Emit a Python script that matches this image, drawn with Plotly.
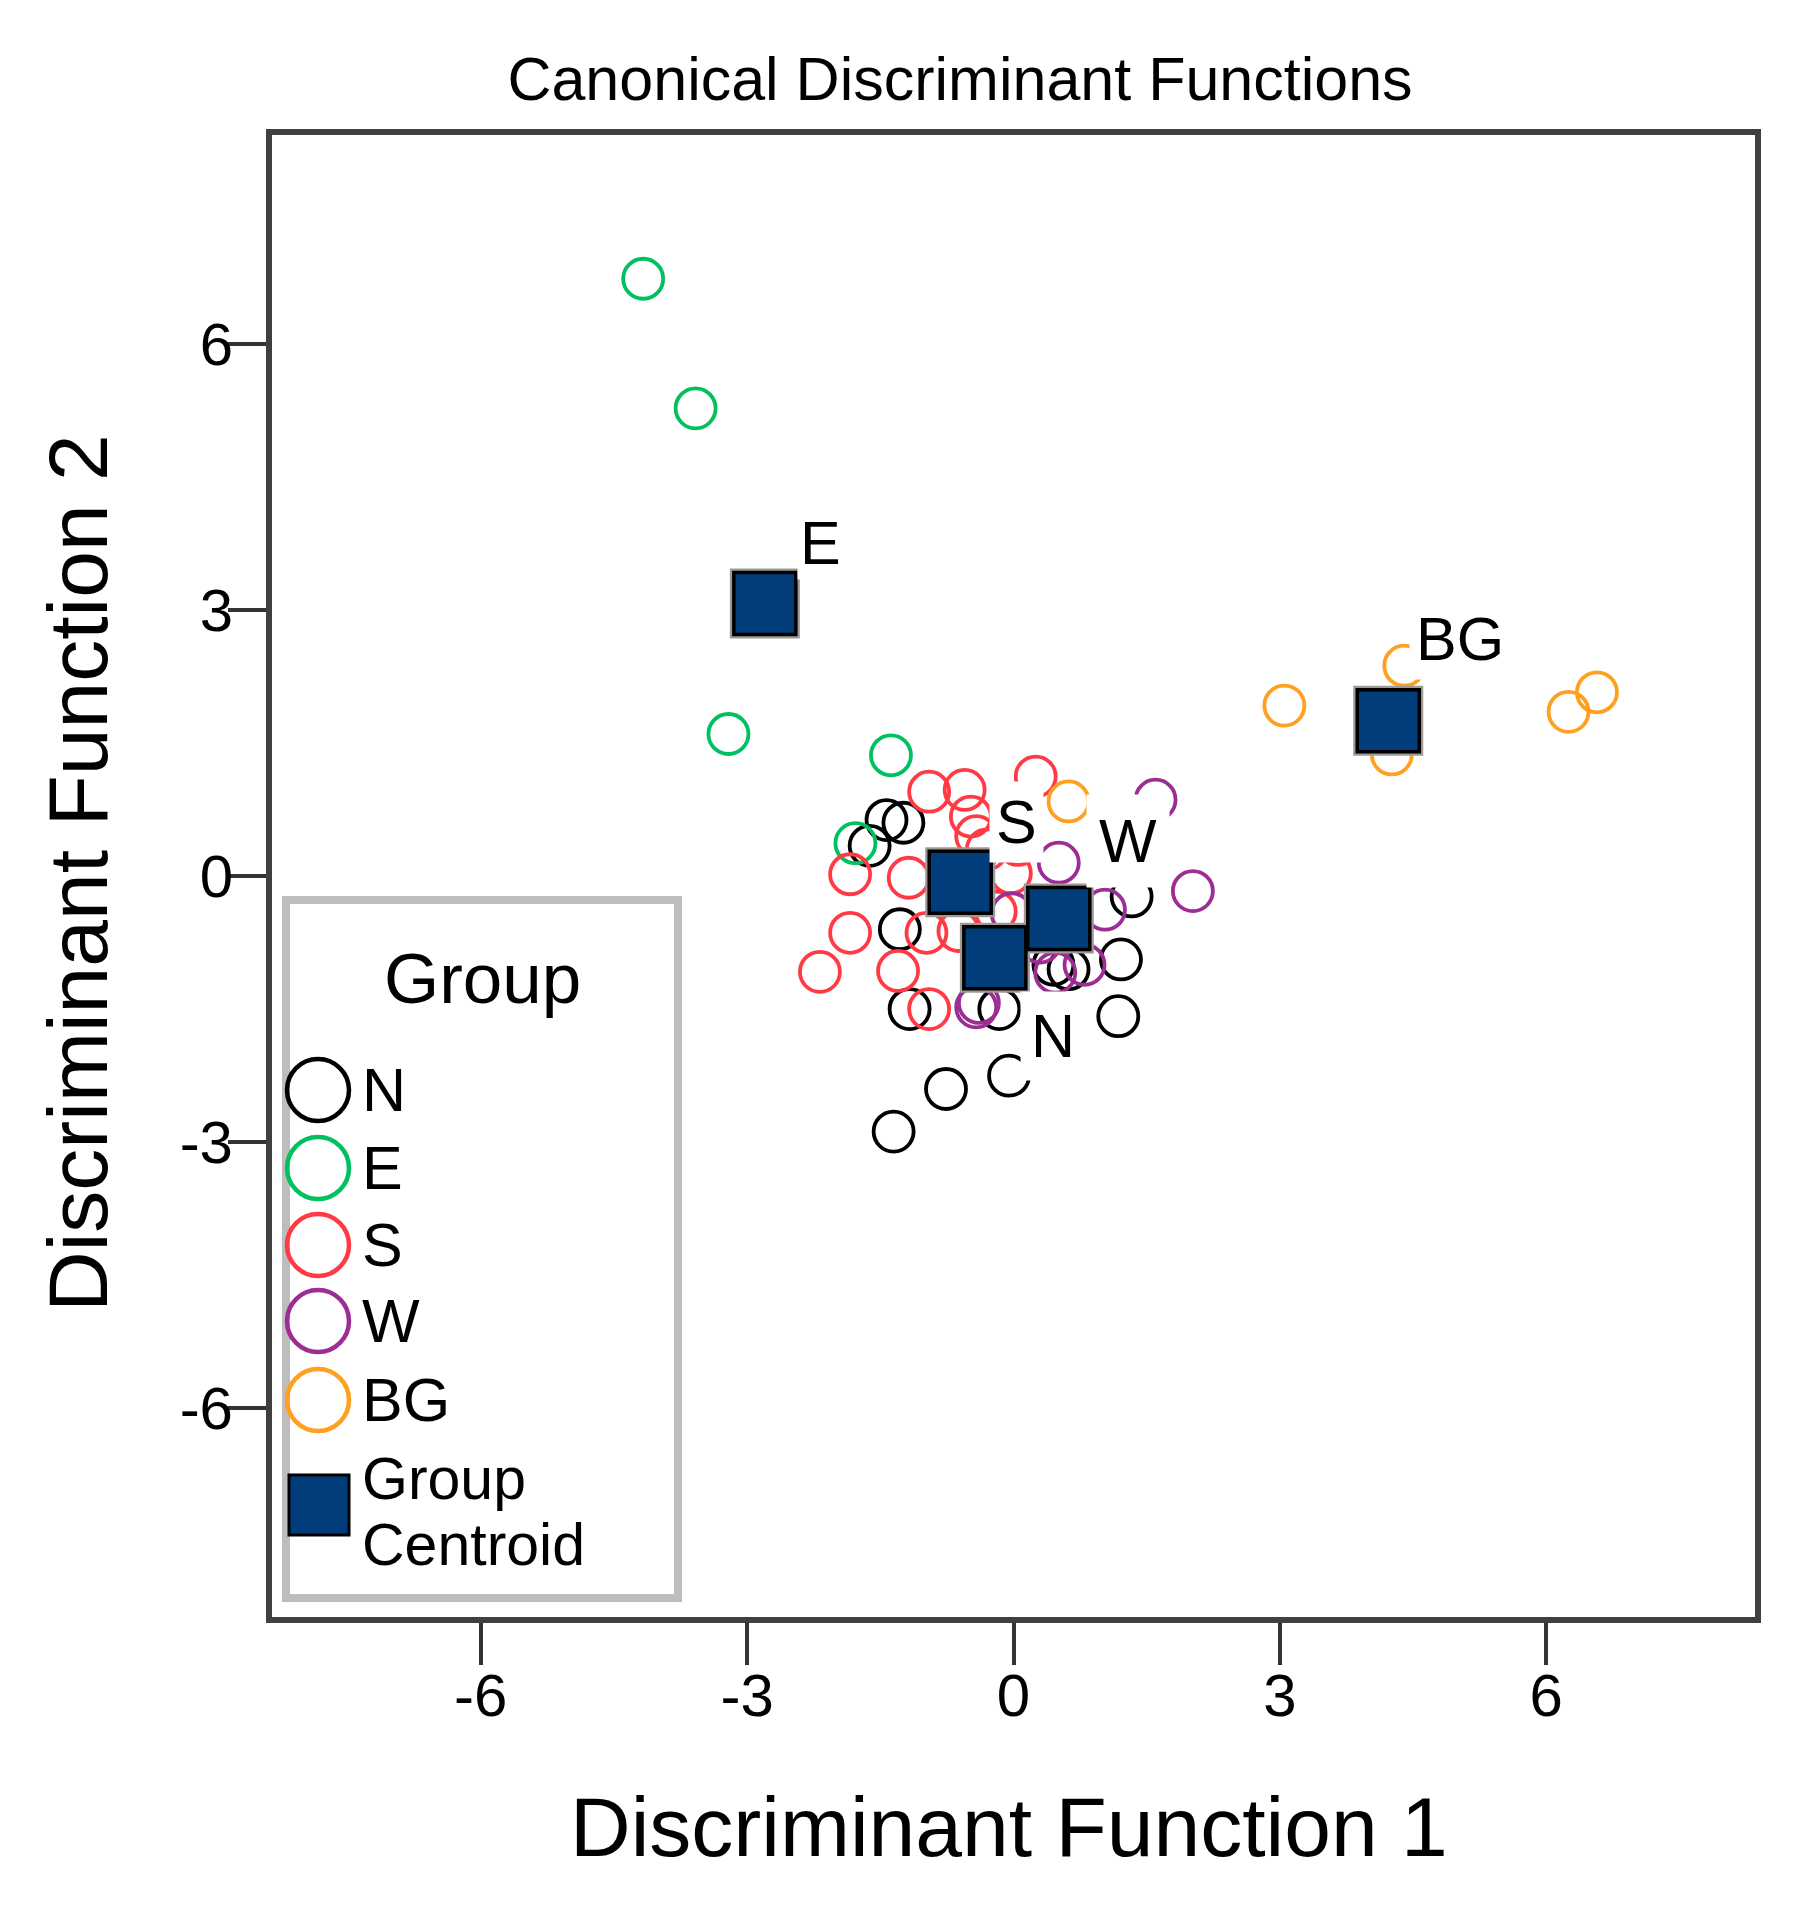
import plotly.graph_objects as go

# group scores on the two discriminant functions
n_x = [-1.43, -1.24, -1.62, -1.28, 1.33, 0.62, 1.21, 1.18, -0.16, -1.17, -0.05, -0.76, -1.35, 0.45]
n_y = [0.63, 0.60, 0.34, -0.60, -0.23, -1.05, -0.94, -1.58, -1.50, -1.50, -2.25, -2.40, -2.88, -1.00]

e_x = [-4.17, -3.58, -3.21, -1.38, -1.78]
e_y = [6.73, 5.27, 1.60, 1.36, 0.37]

s_x = [-0.95, -0.55, -0.48, -0.42, 0.25, -1.84, -1.18, -0.03, -1.84, -2.18, -1.30, -0.95, -0.98, -0.62, -0.30, -0.20, 0.05]
s_y = [0.95, 0.97, 0.67, 0.45, 1.12, 0.02, -0.02, 0.03, -0.64, -1.08, -1.07, -1.50, -0.64, -0.62, 0.30, -0.40, 0.35]

w_x = [1.60, 2.02, 0.51, 1.03, -0.42, -0.02, 0.47, 0.80, 0.30, -0.39]
w_y = [0.86, -0.17, 0.15, -0.38, -1.48, -0.42, -1.09, -1.00, -0.75, -1.43]

bg_x = [3.05, 4.40, 4.26, 6.25, 6.57, 0.62]
bg_y = [1.92, 2.37, 1.37, 1.85, 2.07, 0.84]

centroid_names = ["N", "E", "S", "W", "BG"]
centroid_x = [-0.21, -2.80, -0.60, 0.51, 4.22]
centroid_y = [-0.92, 3.07, -0.07, -0.48, 1.75]

ticks = [-6, -3, 0, 3, 6]

FONT = "Liberation Sans, Arial, sans-serif"
NAVY = "#003d7a"
groups = [
    ("N", n_x, n_y, "#000000"),
    ("E", e_x, e_y, "#00c060"),
    ("S", s_x, s_y, "#ff3a44"),
    ("W", w_x, w_y, "#9c2d93"),
    ("BG", bg_x, bg_y, "#ffa020"),
]

fig = go.Figure()
for name, xs, ys, col in groups:
    fig.add_trace(go.Scatter(
        x=xs, y=ys, mode="markers", name=name,
        marker=dict(symbol="circle-open", size=40, color=col, line=dict(width=3.8, color=col)),
    ))

# centroids: grey halo underneath, then the navy square
fig.add_trace(go.Scatter(
    x=centroid_x, y=centroid_y, mode="markers", hoverinfo="skip",
    marker=dict(symbol="square", size=70, color="#9a9a9a"),
))
fig.add_trace(go.Scatter(
    x=centroid_x, y=centroid_y, mode="markers", name="Group Centroid",
    marker=dict(symbol="square", size=62, color=NAVY, line=dict(width=3.5, color="#000000")),
))

# centroid labels (white box, like SPSS): xshift, yshift, anchor, pad
label_off = {"E": (32, 24, "bottom", 2), "S": (29, 19, "bottom", 6), "W": (27, 31, "bottom", 12),
             "BG": (21, 41, "bottom", 6), "N": (25, -33, "top", 10)}
for nm, cx, cy in zip(centroid_names, centroid_x, centroid_y):
    dx, dy, ya, pad = label_off[nm]
    fig.add_annotation(x=cx, y=cy, text=nm, showarrow=False, xanchor="left", yanchor=ya,
                       xshift=dx, yshift=dy, bgcolor="white", borderpad=pad,
                       font=dict(family=FONT, size=61, color="black"))

# ---- hand-drawn legend box (pixel positions -> paper coords) ----
L, R, T, B = 272, 1755, 135, 1617
def px(x):
    return (x - L) / (R - L)
def py(y):
    return (B - y) / (B - T)

fig.add_shape(type="rect", xref="paper", yref="paper",
              x0=px(286), x1=px(678), y0=py(900), y1=py(1598),
              line=dict(color="#bdbdbd", width=8), fillcolor="white", layer="above")
fig.add_annotation(xref="paper", yref="paper", x=px(482), y=py(978), text="Group",
                   showarrow=False, xanchor="center", yanchor="middle",
                   font=dict(family=FONT, size=71, color="black"))
leg_y = [1090, 1168, 1245, 1321, 1400]
for (name, _, _, col), ly in zip(groups, leg_y):
    fig.add_shape(type="circle", xref="paper", yref="paper",
                  x0=px(287), x1=px(349), y0=py(ly - 31), y1=py(ly + 31),
                  line=dict(color=col, width=4.5), layer="above")
    fig.add_annotation(xref="paper", yref="paper", x=px(360), y=py(ly), text=name,
                       showarrow=False, xanchor="left", yanchor="middle",
                       font=dict(family=FONT, size=61, color="black"))
fig.add_shape(type="rect", xref="paper", yref="paper",
              x0=px(289), x1=px(349), y0=py(1475), y1=py(1535),
              line=dict(color="#000000", width=3), fillcolor=NAVY, layer="above")
fig.add_annotation(xref="paper", yref="paper", x=px(360), y=py(1479), text="Group",
                   showarrow=False, xanchor="left", yanchor="middle",
                   font=dict(family=FONT, size=59, color="black"))
fig.add_annotation(xref="paper", yref="paper", x=px(360), y=py(1545), text="Centroid",
                   showarrow=False, xanchor="left", yanchor="middle",
                   font=dict(family=FONT, size=59, color="black"))

# axis titles
fig.add_annotation(xref="paper", yref="paper", x=0.5, y=0, xshift=-5, yshift=-210,
                   text="Discriminant Function 1", showarrow=False,
                   xanchor="center", yanchor="middle",
                   font=dict(family=FONT, size=84, color="black"))
fig.add_annotation(xref="paper", yref="paper", x=0, y=0.5, xshift=-194, yshift=3,
                   text="Discriminant Function 2", showarrow=False,
                   xanchor="center", yanchor="middle", textangle=-90,
                   font=dict(family=FONT, size=84, color="black"))

axis_style = dict(showgrid=False, zeroline=False, showline=True, mirror=True,
                  linecolor="#404040", linewidth=6, ticks="outside", tickwidth=4,
                  tickcolor="#333333", tickvals=ticks, ticktext=[str(t) for t in ticks],
                  tickfont=dict(family=FONT, size=60, color="black"))
fig.update_xaxes(range=[-8.35, 8.35], ticklen=42, ticklabelstandoff=-21, **axis_style)
fig.update_yaxes(range=[-8.35, 8.35], ticklen=38, ticklabelstandoff=-17, **axis_style)

fig.update_layout(
    width=1820, height=1912,
    margin=dict(l=L, r=1820 - R, t=T, b=1912 - B),
    paper_bgcolor="white", plot_bgcolor="white",
    showlegend=False,
    title=dict(text="Canonical Discriminant Functions", x=960 / 1820, xanchor="center",
               y=1 - 79 / 1912, yanchor="middle",
               font=dict(family=FONT, size=61, color="black")),
)

fig.write_html("out.html", config={"displayModeBar": False},
               post_script="document.body.style.margin='0';")
